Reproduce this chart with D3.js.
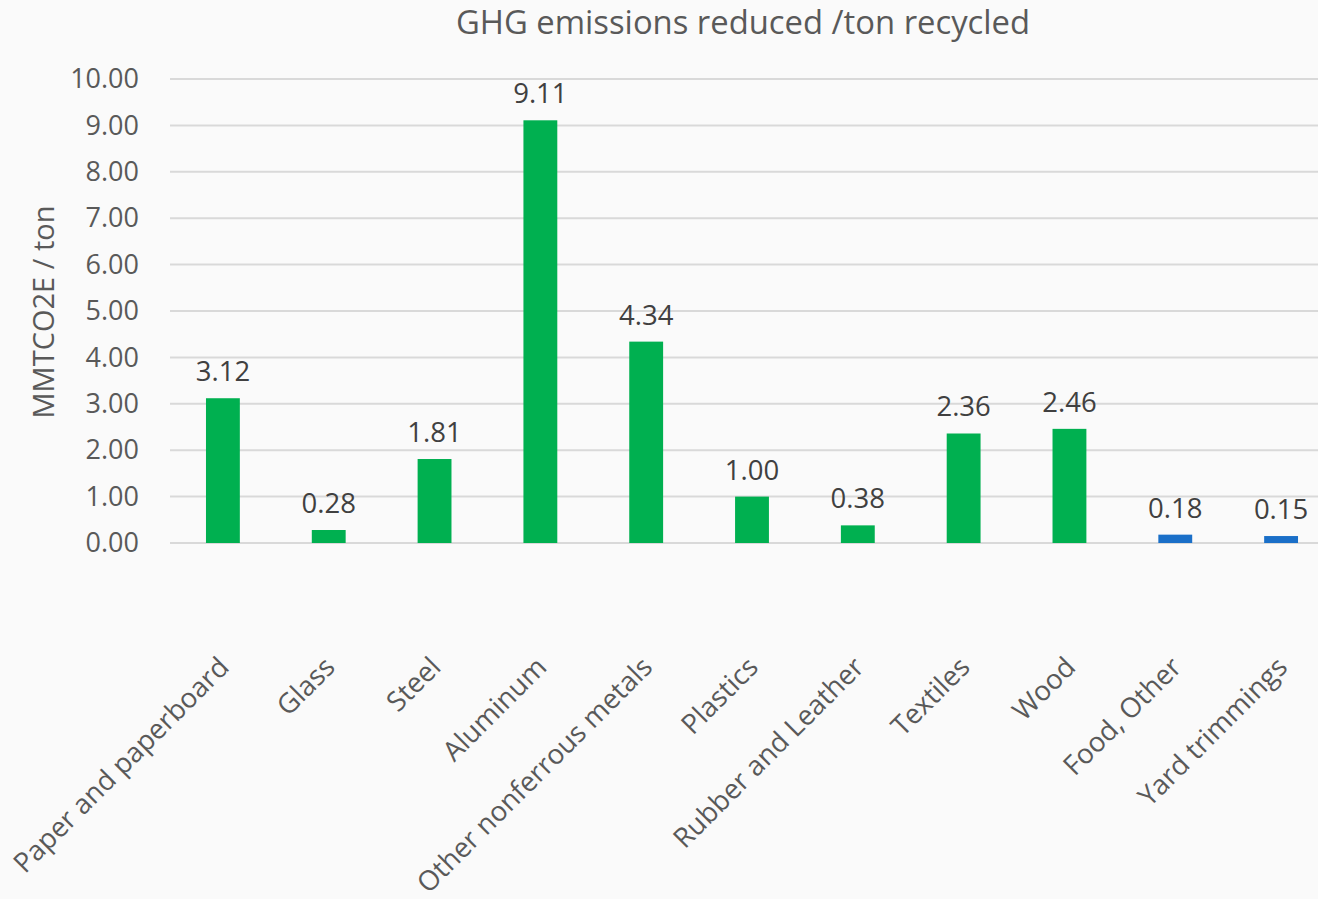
<!DOCTYPE html>
<html>
<head>
<meta charset="utf-8">
<script src="https://cdn.jsdelivr.net/npm/d3@7"></script>
<style>
  html, body { margin: 0; padding: 0; background: #fafafa; }
  svg { display: block; font-family: "Open Sans", sans-serif; }
</style>
</head>
<body>
<svg id="chart" width="1318" height="899"></svg>
<script>
// Materials and GHG emissions avoided per ton recycled
const categories = ["Paper and paperboard", "Glass", "Steel", "Aluminum", "Other nonferrous metals",
  "Plastics", "Rubber and Leather", "Textiles", "Wood", "Food, Other", "Yard trimmings"];
const values = [3.12, 0.28, 1.81, 9.11, 4.34, 1.00, 0.38, 2.36, 2.46, 0.18, 0.15];
// Compostable materials drawn in blue, the rest in green
const groups = ["recycled", "recycled", "recycled", "recycled", "recycled",
  "recycled", "recycled", "recycled", "recycled", "composted", "composted"];
const yTicks = [0, 1, 2, 3, 4, 5, 6, 7, 8, 9, 10];
const titleText = "GHG emissions reduced /ton recycled";
const yTitle = "MMTCO2E / ton";

const colors = { recycled: "#00b050", composted: "#1a6fc8" };

const svg = d3.select("#chart");
const plot = { left: 170, right: 1334, top: 79, bottom: 543 };

const x = d3.scaleBand()
  .domain(categories)
  .range([plot.left, plot.right])
  .paddingInner(0.68)
  .paddingOuter(0.34);

const y = d3.scaleLinear()
  .domain([0, 10])
  .range([plot.bottom, plot.top]);

// Title
svg.append("text")
  .attr("x", 743)
  .attr("y", 34)
  .attr("text-anchor", "middle")
  .attr("fill", "#595959")
  .attr("font-size", 32.8)
  .text(titleText);

// Gridlines
svg.append("g")
  .selectAll("line")
  .data(yTicks)
  .join("line")
  .attr("x1", plot.left)
  .attr("x2", 1318)
  .attr("y1", d => y(d))
  .attr("y2", d => y(d))
  .attr("stroke", "#d9d9d9")
  .attr("stroke-width", 2);

// Y axis labels
const yAxis = d3.axisLeft(y).tickValues(yTicks).tickFormat(d3.format(".2f")).tickSize(0).tickPadding(31);
const yg = svg.append("g").attr("transform", `translate(${plot.left},0)`).call(yAxis);
yg.select(".domain").remove();
yg.selectAll("text")
  .attr("fill", "#595959")
  .attr("font-size", 27)
  .attr("font-family", "'Open Sans', sans-serif");

// Y axis title
svg.append("text")
  .attr("transform", "translate(54,312) rotate(-90)")
  .attr("text-anchor", "middle")
  .attr("fill", "#595959")
  .attr("font-size", 29)
  .text(yTitle);

// Bars
svg.append("g")
  .selectAll("rect")
  .data(values)
  .join("rect")
  .attr("x", (d, i) => x(categories[i]))
  .attr("width", x.bandwidth())
  .attr("y", d => y(d))
  .attr("height", d => y(0) - y(d))
  .attr("fill", (d, i) => colors[groups[i]]);

// Value labels
svg.append("g")
  .selectAll("text")
  .data(values)
  .join("text")
  .attr("x", (d, i) => x(categories[i]) + x.bandwidth() / 2)
  .attr("y", d => y(d) - 17)
  .attr("text-anchor", "middle")
  .attr("fill", "#404040")
  .attr("font-size", 27.5)
  .text(d => d3.format(".2f")(d));

// Category labels, rotated
svg.append("g")
  .selectAll("text")
  .data(categories)
  .join("text")
  .attr("transform", d => `translate(${x(d) + x.bandwidth() / 2 + 1},${662}) rotate(-45)`)
  .attr("text-anchor", "end")
  .attr("dy", "0.35em")
  .attr("fill", "#595959")
  .attr("font-size", 27.5)
  .text(d => d);
</script>
</body>
</html>
